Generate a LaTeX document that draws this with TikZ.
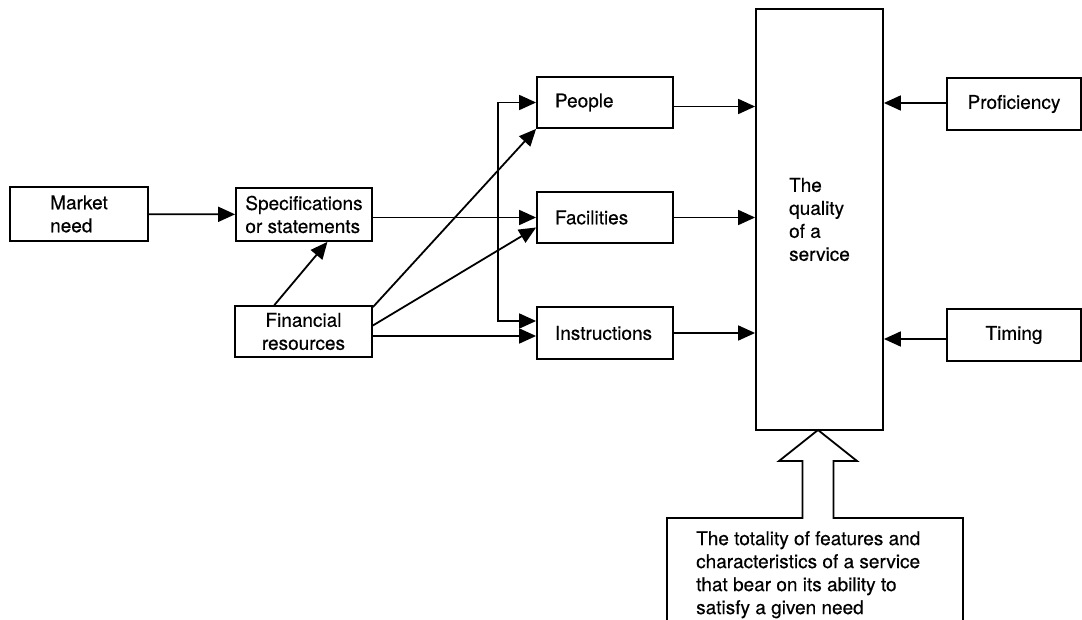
\documentclass[tikz,border=0pt]{standalone}
\usepackage{fontspec}
\setmainfont{TeX Gyre Heros}[FakeBold=0.4]
\usetikzlibrary{arrows.meta,calc}
\begin{document}
\begin{tikzpicture}[x=1pt,y=-1pt,
  txt/.style={font=\fontsize{19}{23}\selectfont},
  box/.style={txt,draw,line width=1.8pt,inner sep=0pt},
  arr/.style={line width=1.8pt,-{Triangle[length=17pt,width=15pt]}},
  both/.style={line width=1.8pt,{Triangle[length=17pt,width=15pt]}-{Triangle[length=17pt,width=15pt]}}
]
\useasboundingbox (0,0) rectangle (1082,620);
\clip (0,0) rectangle (1082,620);

% boxes
\node[box,minimum width=138pt,minimum height=54pt,align=left] (market) at (79,214) {Market\\need};
\node[box,minimum width=136pt,minimum height=53pt,align=left] (spec) at (304,214.5) {Specifications\\or statements};
\node[box,minimum width=137pt,minimum height=51pt,align=center] (fin) at (303.5,331.5) {Financial\\resources};
\node[box,minimum width=136pt,minimum height=51pt,text width=100pt,align=left] (people) at (605,102.5) {People};
\node[box,minimum width=136pt,minimum height=51pt,text width=100pt,align=left] (fac) at (605,217.5) {Facilities};
\node[box,minimum width=136pt,minimum height=52pt,text width=100pt,align=left] (instr) at (605,333) {Instructions};
\node[box,minimum width=127pt,minimum height=421pt,align=left] (quality) at (819.5,219.5) {The\\quality\\of a\\service};
\node[box,minimum width=134pt,minimum height=52pt] (prof) at (1014,104) {Proficiency};
\node[box,minimum width=134pt,minimum height=52pt] (timing) at (1014,335) {Timing};
\node[txt,inner sep=0pt,align=left,anchor=north west] (def) at (696,531)
  {The totality of features and\\characteristics of a service\\that bear on its ability to\\satisfy a given need};

% open box under the hollow arrow, with the arrow outline
\coordinate (tip) at (818,430);
\draw[line width=1.8pt,line join=miter]
  (667,630) -- (667,518) -- (802.5,518) -- (802.5,461) -- (779,461) -- (tip)
  -- (857,461) -- (833.5,461) -- (833.5,518) -- (963,518) -- (963,630);

% connectors on the left
\draw[arr] (market) -- (spec);
\draw[arr] ($(fin.north west)!0.29!(fin.north east)$) -- ($(spec.south west)!0.67!(spec.south east)$);
\draw[arr] (spec.east |- fac.west) -- (fac.west);
\coordinate (busA) at (498,102.5);
\coordinate (busB) at (498,321);
\draw[both] (people.west) -- (busA) -- (busB) -- (instr.west |- busB);
\draw[arr] ($(fin.north east)+(0,2)$) -- (people.south west);
\draw[arr] ($(fin.east)+(0,-6)$) -- ($(fac.west)+(0,10)$);
\draw[arr] ($(fin.east)+(0,4.5)$) -- ($(instr.west)+(0,3)$);

% into the quality box
\draw[arr] ($(people.east)+(0,4)$) -- ($(people.east -| quality.west)+(0,4)$);
\draw[arr] (fac.east) -- (fac.east -| quality.west);
\draw[arr] (instr.east) -- (instr.east -| quality.west);
\draw[arr] ($(prof.west)+(0,-1)$) -- ($(prof.west -| quality.east)+(0,-1)$);
\draw[arr] ($(timing.west)+(0,4)$) -- ($(timing.west -| quality.east)+(0,4)$);
\end{tikzpicture}
\end{document}
